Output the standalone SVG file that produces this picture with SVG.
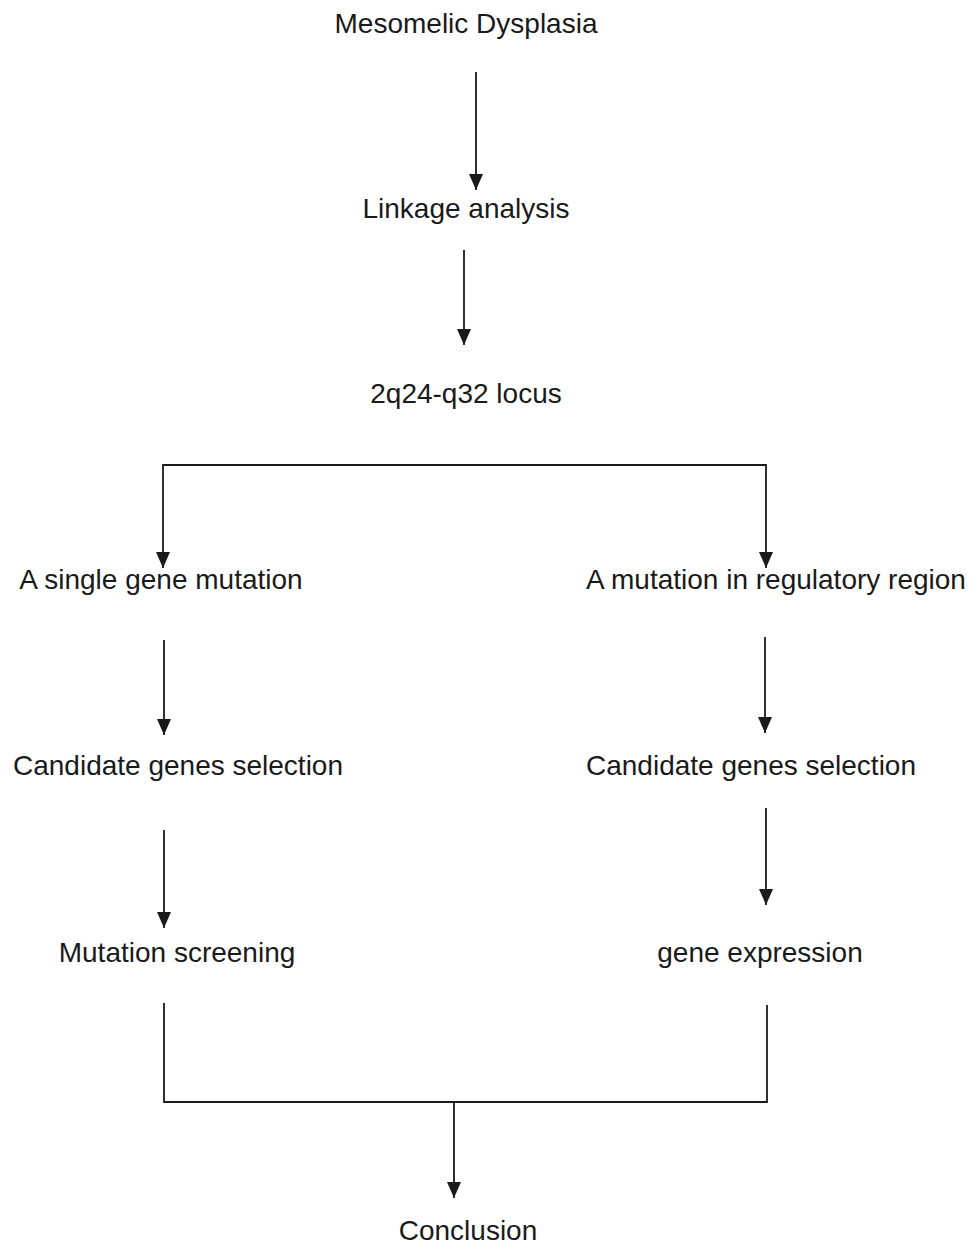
<svg xmlns="http://www.w3.org/2000/svg" width="975" height="1248" viewBox="0 0 975 1248">
<style>
text{font-family:"Liberation Sans",Arial,sans-serif;font-size:28px;fill:#1a1a1a;text-anchor:middle}
.c{stroke:#1a1a1a;stroke-width:1.8;fill:none}
</style>
<defs>
<marker id="a" markerWidth="16" markerHeight="14" refX="16" refY="7" orient="auto" markerUnits="userSpaceOnUse" viewBox="0 0 16 14">
<path d="M0,0 L16,7 L0,14 Z" fill="#1a1a1a"/>
</marker>
</defs>
<rect width="975" height="1248" fill="#fff"/>
<g id="connectors">
<line class="c" x1="476" y1="72" x2="476" y2="190" marker-end="url(#a)"/>
<line class="c" x1="464" y1="250" x2="464" y2="345" marker-end="url(#a)"/>
<line class="c" x1="163" y1="465" x2="766" y2="465"/>
<line class="c" x1="163" y1="464.1" x2="163" y2="568" marker-end="url(#a)"/>
<line class="c" x1="766" y1="464.1" x2="766" y2="568" marker-end="url(#a)"/>
<line class="c" x1="164" y1="640" x2="164" y2="735" marker-end="url(#a)"/>
<line class="c" x1="765" y1="637" x2="765" y2="733" marker-end="url(#a)"/>
<line class="c" x1="164" y1="830" x2="164" y2="928" marker-end="url(#a)"/>
<line class="c" x1="766" y1="808" x2="766" y2="905" marker-end="url(#a)"/>
<polyline class="c" points="164,1003 164,1102 767,1102 767,1005"/>
<line class="c" x1="454" y1="1102" x2="454" y2="1198" marker-end="url(#a)"/>
</g>
<g id="n1"><text x="466" y="33">Mesomelic Dysplasia</text></g>
<g id="n2"><text x="466" y="218">Linkage analysis</text></g>
<g id="n3"><text x="466" y="403">2q24-q32 locus</text></g>
<g id="n4"><text x="161" y="589">A single gene mutation</text></g>
<g id="n5"><text x="776" y="589">A mutation in regulatory region</text></g>
<g id="n6"><text x="178" y="775">Candidate genes selection</text></g>
<g id="n7"><text x="751" y="775">Candidate genes selection</text></g>
<g id="n8"><text x="177" y="962">Mutation screening</text></g>
<g id="n9"><text x="760" y="962">gene expression</text></g>
<g id="n10"><text x="468" y="1240">Conclusion</text></g>
</svg>
